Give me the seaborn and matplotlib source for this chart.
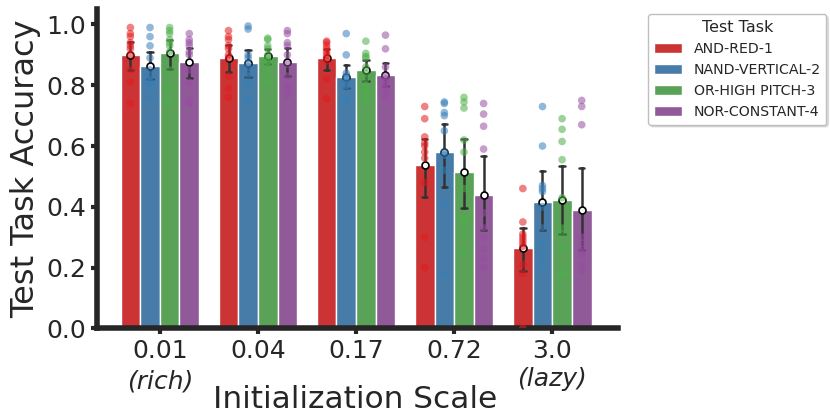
import numpy as np
import pandas as pd
import matplotlib
matplotlib.use("Agg")
import matplotlib.pyplot as plt
import seaborn as sns

scales = ["0.01", "0.04", "0.17", "0.72", "3.0"]
tasks = ["AND-RED-1", "NAND-VERTICAL-2", "OR-HIGH PITCH-3", "NOR-CONSTANT-4"]

and_red_1 = [
    [0.99, 0.97, 0.96, 0.94, 0.93, 0.92, 0.90, 0.85, 0.81, 0.74],
    [0.98, 0.96, 0.95, 0.93, 0.92, 0.90, 0.89, 0.83, 0.79, 0.76],
    [0.945, 0.94, 0.93, 0.92, 0.91, 0.90, 0.89, 0.88, 0.82, 0.755],
    [0.73, 0.69, 0.63, 0.61, 0.60, 0.58, 0.56, 0.48, 0.30, 0.20],
    [0.46, 0.35, 0.31, 0.30, 0.29, 0.28, 0.27, 0.21, 0.18, 0.0],
]
nand_vertical_2 = [
    [0.99, 0.96, 0.93, 0.89, 0.85, 0.83, 0.82, 0.81, 0.80, 0.76],
    [0.995, 0.985, 0.90, 0.89, 0.87, 0.86, 0.84, 0.83, 0.80, 0.75],
    [0.97, 0.90, 0.84, 0.83, 0.82, 0.81, 0.80, 0.79, 0.76, 0.745],
    [0.745, 0.74, 0.71, 0.70, 0.65, 0.58, 0.57, 0.52, 0.41, 0.18],
    [0.73, 0.60, 0.47, 0.46, 0.45, 0.40, 0.33, 0.28, 0.24, 0.21],
]
or_high_pitch_3 = [
    [0.99, 0.98, 0.97, 0.95, 0.94, 0.93, 0.91, 0.85, 0.79, 0.745],
    [0.955, 0.95, 0.93, 0.92, 0.90, 0.89, 0.88, 0.87, 0.86, 0.815],
    [0.945, 0.905, 0.895, 0.89, 0.86, 0.84, 0.82, 0.80, 0.78, 0.755],
    [0.76, 0.745, 0.725, 0.62, 0.58, 0.46, 0.36, 0.35, 0.30, 0.25],
    [0.69, 0.655, 0.615, 0.555, 0.43, 0.33, 0.31, 0.27, 0.18, 0.18],
]
nor_constant_4 = [
    [0.97, 0.95, 0.94, 0.93, 0.91, 0.90, 0.85, 0.81, 0.74, 0.75],
    [0.98, 0.97, 0.94, 0.93, 0.90, 0.87, 0.83, 0.80, 0.78, 0.77],
    [0.965, 0.92, 0.86, 0.82, 0.83, 0.81, 0.80, 0.79, 0.78, 0.76],
    [0.74, 0.705, 0.665, 0.59, 0.38, 0.33, 0.30, 0.26, 0.23, 0.20],
    [0.75, 0.73, 0.67, 0.25, 0.30, 0.28, 0.26, 0.24, 0.21, 0.19],
]

series = [and_red_1, nand_vertical_2, or_high_pitch_3, nor_constant_4]
rows = []
for task, per_scale in zip(tasks, series):
    for sc, vals in zip(scales, per_scale):
        for v in vals:
            rows.append({"Initialization Scale": sc, "Test Task": task, "Accuracy": v})
df = pd.DataFrame(rows)

sns.set_theme(style="ticks")
plt.rcParams["font.family"] = ["DejaVu Sans"]
text_color = "#262626"

fig, ax = plt.subplots(figsize=(8.3, 4.15), dpi=100)
fig.subplots_adjust(left=0.1169, right=0.7446, bottom=0.2089, top=0.9776)

palette = sns.color_palette("Set1", 4)

sns.barplot(data=df, x="Initialization Scale", y="Accuracy", hue="Test Task",
            order=scales, hue_order=tasks, palette=palette,
            errorbar=("ci", 95), seed=0, capsize=0.22,
            err_kws={"linewidth": 1.8, "color": "#333333"},
            edgecolor="white", linewidth=1.0, ax=ax)
sns.stripplot(data=df, x="Initialization Scale", y="Accuracy", hue="Test Task",
              order=scales, hue_order=tasks, palette=palette,
              dodge=True, jitter=False, size=5.5, alpha=0.55, linewidth=0,
              legend=False, ax=ax)
sns.pointplot(data=df, x="Initialization Scale", y="Accuracy", hue="Test Task",
              order=scales, hue_order=tasks, palette=["white"] * 4,
              dodge=0.6, linestyle="none", errorbar=None, markers="o",
              markersize=5, markeredgecolor="black", markeredgewidth=1.2,
              legend=False, ax=ax)

ax.set_xlim(-0.64, 4.67)
ax.set_ylim(0, 1.05)
ax.set_yticks([0.0, 0.2, 0.4, 0.6, 0.8, 1.0])
ax.set_yticklabels(["0.0", "0.2", "0.4", "0.6", "0.8", "1.0"])

sns.despine(ax=ax)
for side in ["left", "bottom"]:
    ax.spines[side].set_linewidth(4)
    ax.spines[side].set_color(text_color)
ax.tick_params(axis="both", labelsize=18, length=4.5, width=3, pad=3.2,
               colors=text_color)

ax.set_ylabel("Test Task Accuracy", fontsize=23, color=text_color)
ax.set_xlabel("Initialization Scale", fontsize=22.5, color=text_color)
ax.xaxis.set_label_coords(0.495, -0.178)

trans = matplotlib.transforms.blended_transform_factory(ax.transData, ax.transAxes)
ax.text(0, -0.168, "(rich)", transform=trans, ha="center", va="center",
        fontsize=18, style="italic", color=text_color)
ax.text(4, -0.16, "(lazy)", transform=trans, ha="center", va="center",
        fontsize=18, style="italic", color=text_color)

handles, labels = ax.get_legend_handles_labels()
leg = ax.legend(handles[:4], labels[:4], title="Test Task",
                loc="upper left", bbox_to_anchor=(1.058, 0.985),
                borderaxespad=0, fontsize=10.2, title_fontsize=11.5,
                frameon=True, fancybox=True, edgecolor="0.75",
                shadow={"ox": 1.5, "oy": -1.5, "alpha": 0.15})

fig.savefig("out.png", dpi=100)
